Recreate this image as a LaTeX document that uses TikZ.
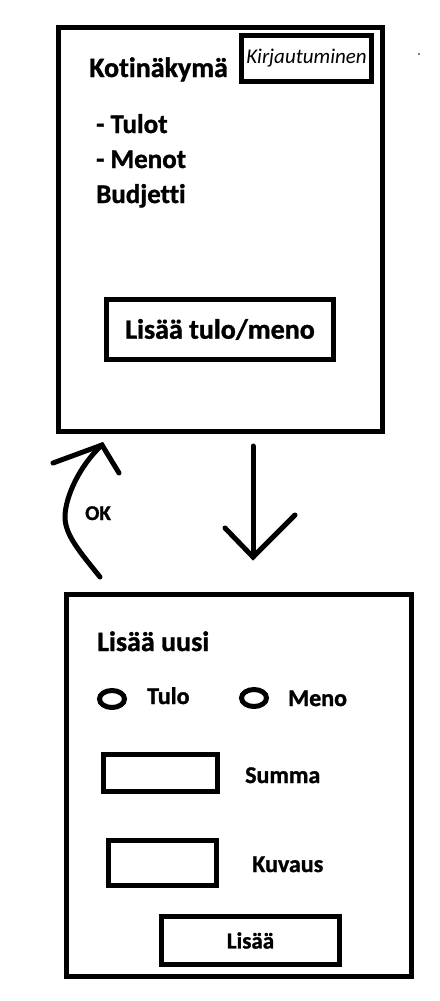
\documentclass[tikz,border=0pt]{standalone}
\usepackage{fontspec}
\setmainfont{Carlito}[Ligatures=NoCommon, BoldFeatures={FakeBold=1.2}]
\usetikzlibrary{shapes.geometric}

\tikzset{
	screen/.style={draw, line width=5pt, inner sep=0pt},
	radio/.style={draw, ellipse, line width=5pt, inner sep=0pt, minimum width=25pt, minimum height=17pt},
	txt/.style={inner sep=0pt, anchor=base west, font=\bfseries\fontsize{#1}{#1}\selectfont},
	stroke/.style={line width=5pt, line cap=round}
}

\begin{document}
\begin{tikzpicture}[x=1pt,y=-1pt]
	\useasboundingbox (0,0) rectangle (439,1001);
	
	% Kotinäkymä
	\node[screen, minimum width=324pt, minimum height=404pt] (home) at (220.5,229.5) {};
	\node[screen, minimum width=130pt, minimum height=46pt, font=\itshape\fontsize{21}{21}\selectfont] (login) at (306.5,58.5) {Kirjautuminen};
	\node[txt=28] (hometitle) at (89,77) {Kotinäkymä};
	\node[txt=27] (tulot) at (96,133) {- Tulot};
	\node[txt=27] (menot) at (96,168) {- Menot};
	\node[txt=27] (budjetti) at (96,203) {Budjetti};
	\node[screen, minimum width=227pt, minimum height=60pt, font=\bfseries\fontsize{28}{28}\selectfont] (addbtn) at (220,329.5) {Lisää tulo/meno};
	
	% Lisää uusi
	\node[screen, minimum width=345pt, minimum height=382pt] (addview) at (239,785.5) {};
	\node[txt=28] (addtitle) at (97,651) {Lisää uusi};
	\node[radio] (rtulo) at (112,699) {};
	\node[txt=24] (tulo) at (147,704) {Tulo};
	\node[radio] (rmeno) at (254,698) {};
	\node[txt=24] (meno) at (288,706) {Meno};
	\node[screen, minimum width=114pt, minimum height=37pt] (summabox) at (160.5,773) {};
	\node[txt=24] (summa) at (245,783) {Summa};
	\node[screen, minimum width=108pt, minimum height=45pt] (kuvausbox) at (162.5,863) {};
	\node[txt=24] (kuvaus) at (252,872) {Kuvaus};
	\node[screen, minimum width=178pt, minimum height=48pt, font=\bfseries\fontsize{23}{23}\selectfont] (lisaa) at (250.5,940.5) {Lisää};
	
	% nuolet
	\coordinate (downfrom) at (253,446);
	\coordinate (downtip) at (253,557);
	\coordinate (okfrom) at (100,577);
	\coordinate (okbend) at (65,517);
	\coordinate (oktip) at (102,445);
	
	\draw[stroke] (downfrom) -- (downtip);
	\draw[stroke] (225,528) -- (downtip) -- (295,515);
	
	\draw[stroke] (okfrom) .. controls (80,552) and (65,535) .. (okbend)
		.. controls (65,497) and (80,465) .. (oktip);
	\draw[stroke] (53,463) -- (oktip) -- (119,473);
	\node[txt=21] (ok) at (85,520) {OK};
	
	\fill[gray] (418,53) rectangle (420,55);
\end{tikzpicture}
\end{document}
